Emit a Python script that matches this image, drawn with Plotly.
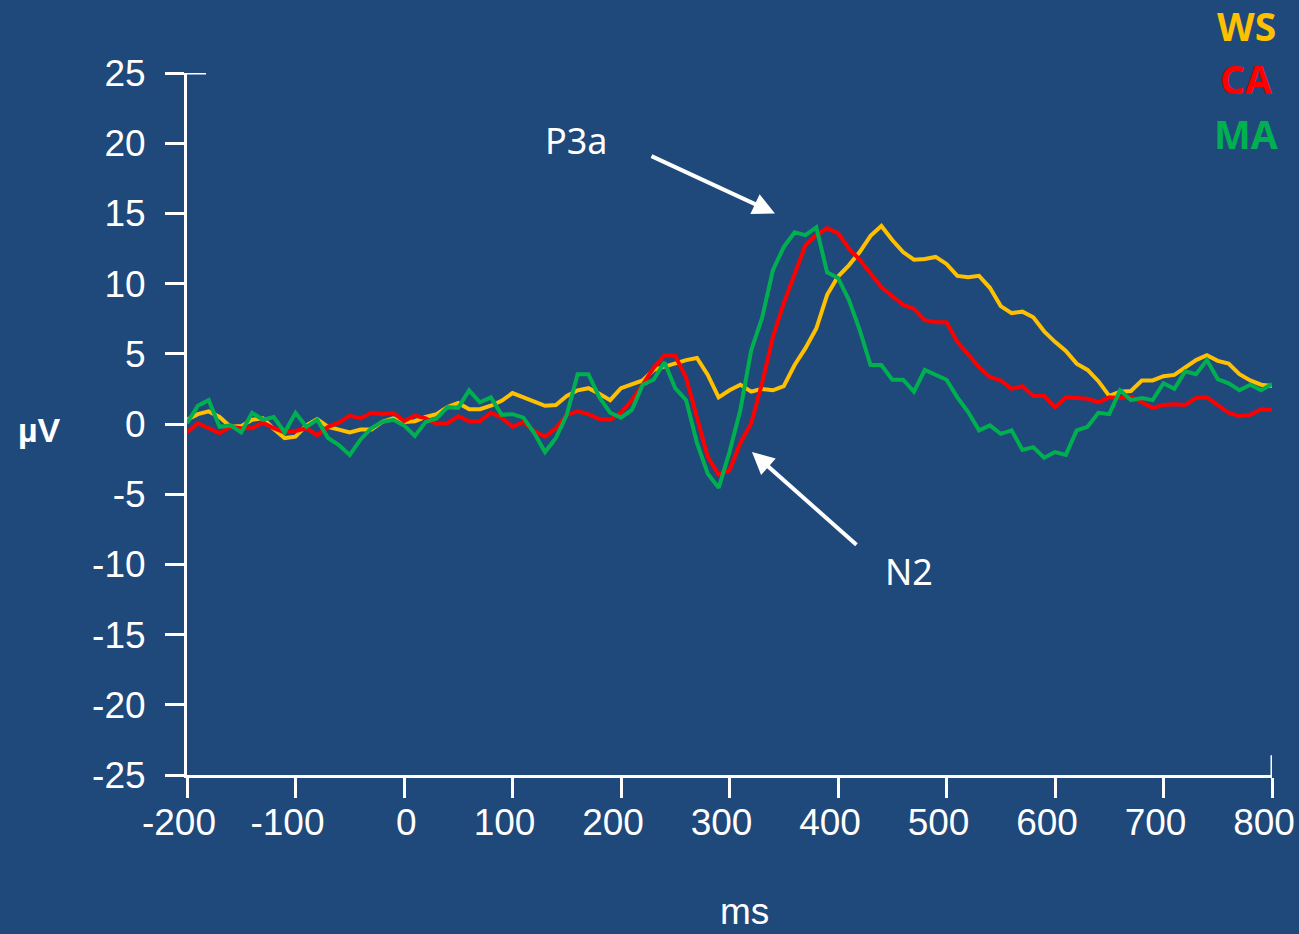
import plotly.graph_objects as go

ms = list(range(-200, 801, 10))

ws = [0.3, 0.7, 0.9, 0.5, -0.2, -0.15, 0.3, 0.4, -0.35, -1.0,
      -0.9, -0.1, 0.35, -0.2, -0.4, -0.6, -0.4, -0.4, 0.15, 0.4,
      0.15, 0.2, 0.5, 0.7, 1.2, 1.5, 1.05, 1.05, 1.3, 1.65,
      2.2, 1.9, 1.65, 1.3, 1.35, 2.0, 2.4, 2.55, 2.15, 1.7,
      2.55, 2.8, 3.1, 3.85, 4.1, 4.3, 4.55, 4.7, 3.5, 1.9,
      2.4, 2.8, 2.3, 2.5, 2.4, 2.7, 4.2, 5.4, 6.8, 9.2,
      10.5, 11.3, 12.25, 13.4, 14.1, 13.1, 12.25, 11.7, 11.75, 11.9,
      11.4, 10.55, 10.45, 10.55, 9.7, 8.4, 7.9, 8.0, 7.6, 6.6,
      5.85, 5.2, 4.3, 3.85, 3.05, 2.0, 2.3, 2.35, 3.1, 3.1,
      3.4, 3.5, 4.0, 4.55, 4.9, 4.5, 4.3, 3.55, 3.1, 2.8,
      2.7]

ca = [-0.6, 0.05, -0.3, -0.65, -0.2, -0.3, -0.3, 0.1, -0.3, -0.6,
      -0.5, -0.3, -0.8, -0.2, 0.1, 0.6, 0.4, 0.8, 0.7, 0.8,
      0.2, 0.6, 0.4, 0.0, 0.05, 0.55, 0.2, 0.2, 0.8, 0.45,
      -0.2, 0.15, -0.5, -0.9, -0.3, 0.65, 0.9, 0.7, 0.35, 0.3,
      0.8, 1.7, 2.8, 4.0, 4.9, 4.85, 3.3, 0.5, -2.35, -3.6,
      -3.3, -1.35, 0.05, 2.9, 6.2, 8.6, 10.75, 12.75, 13.45, 13.95,
      13.6, 12.5, 11.7, 10.75, 9.75, 9.1, 8.5, 8.2, 7.4, 7.25,
      7.25, 5.85, 4.9, 4.05, 3.35, 3.1, 2.5, 2.7, 2.0, 2.0,
      1.2, 1.9, 1.85, 1.8, 1.55, 1.9, 1.85, 1.9, 1.55, 1.15,
      1.35, 1.4, 1.35, 1.85, 1.9, 1.35, 0.8, 0.55, 0.65, 1.05,
      1.0]

ma = [0.05, 1.3, 1.7, -0.2, -0.1, -0.6, 0.8, 0.3, 0.5, -0.6,
      0.8, -0.2, 0.3, -1.0, -1.5, -2.2, -1.1, -0.3, 0.15, 0.3,
      -0.1, -0.85, 0.15, 0.4, 1.2, 1.15, 2.4, 1.55, 1.9, 0.65,
      0.7, 0.45, -0.65, -2.0, -1.0, 0.65, 3.55, 3.55, 1.9, 0.8,
      0.45, 1.0, 2.8, 3.15, 4.4, 2.55, 1.7, -1.35, -3.55, -4.55,
      -2.0, 1.0, 5.25, 7.55, 10.95, 12.6, 13.65, 13.45, 14.0, 10.8,
      10.4, 8.85, 6.7, 4.2, 4.2, 3.15, 3.15, 2.3, 3.85, 3.5,
      3.15, 1.9, 0.85, -0.45, -0.1, -0.7, -0.45, -1.85, -1.65, -2.4,
      -2.0, -2.2, -0.45, -0.2, 0.8, 0.7, 2.4, 1.7, 1.85, 1.7,
      2.9, 2.5, 3.75, 3.55, 4.55, 3.2, 2.9, 2.4, 2.8, 2.4,
      2.85]

x_ticks = [-200, -100, 0, 100, 200, 300, 400, 500, 600, 700, 800]
x_tick_text = ["-200", "-100", "\u00a0\u00a00", "100", "200", "300", "400", "500", "600", "700", "800"]
y_ticks = [-25, -20, -15, -10, -5, 0, 5, 10, 15, 20, 25]
y_tick_text = ["-25", "-20", "-15", "-10", "-5", "0", "5", "10", "15", "20", "25"]

series_names = ["WS", "CA", "MA"]
series_colors = ["#FFC000", "#FF0000", "#00B050"]

BG = "#1F487B"
WHITE = "#FFFFFF"

fig = go.Figure()
for name, vals, col in [("WS", ws, series_colors[0]), ("CA", ca, series_colors[1]), ("MA", ma, series_colors[2])]:
    fig.add_trace(go.Scatter(x=ms, y=vals, mode="lines", name=name,
                             line=dict(color=col, width=4), showlegend=False))

axis_font = dict(family="Liberation Sans, Arial, sans-serif", size=37, color=WHITE)

fig.update_layout(
    width=1299, height=934,
    margin=dict(l=187, r=27, t=73, b=159),
    paper_bgcolor=BG, plot_bgcolor=BG,
    xaxis=dict(range=[-200, 800], showgrid=False, zeroline=False, automargin=False,
               showline=True, linecolor=WHITE, linewidth=3,
               ticks="outside", ticklen=20, tickwidth=3, tickcolor=WHITE,
               tickvals=x_ticks, ticktext=x_tick_text, tickfont=axis_font,
               ticklabelstandoff=-7, ticklabelshift=-8, ticklabeloverflow="allow"),
    yaxis=dict(range=[-25, 25], showgrid=False, zeroline=False, automargin=False,
               showline=True, linecolor=WHITE, linewidth=3,
               ticks="outside", ticklen=19, tickwidth=3, tickcolor=WHITE,
               tickvals=y_ticks, ticktext=y_tick_text, tickfont=axis_font,
               ticklabelstandoff=12),
)

# cap at top of y axis and upward tick at right end of x axis
fig.add_shape(type="line", xref="x", yref="y", x0=-200, x1=-182.5, y0=25, y1=25,
              line=dict(color=WHITE, width=3))
fig.add_shape(type="line", xref="x", yref="y", x0=800, x1=800, y0=-25, y1=-23.6,
              line=dict(color=WHITE, width=3))

# axis titles
fig.add_annotation(text="<b>µV</b>", xref="paper", yref="y", x=-0.1355, y=-0.4,
                   xanchor="center", yanchor="middle", showarrow=False,
                   font=dict(family="Liberation Sans, Arial", size=34, color=WHITE))
fig.add_annotation(text="ms", xref="paper", yref="paper", x=0.514, y=-0.195,
                   xanchor="center", yanchor="middle", showarrow=False,
                   font=dict(family="Liberation Sans, Arial", size=37, color=WHITE))

# legend texts
for i, (nm, col) in enumerate(zip(series_names, series_colors)):
    fig.add_annotation(text="<b>%s</b>" % nm, xref="paper", yref="paper",
                       x=(1246 - 187) / 1085.0, y=(934 - 25 - 54 * i - 159) / 702.0,
                       xanchor="center", yanchor="middle", showarrow=False,
                       font=dict(family="Noto Sans, Open Sans", size=39, color=col))

# P3a and N2 arrows
label_font = dict(family="Noto Sans, Open Sans", size=36, color=WHITE)
fig.add_annotation(x=341.9, y=15.0, ax=-125, ay=-58, text="", showarrow=True,
                   arrowhead=2, arrowsize=1.1, arrowwidth=4, arrowcolor=WHITE)
fig.add_annotation(x=320.7, y=-2.0, ax=106, ay=94, text="", showarrow=True,
                   arrowhead=2, arrowsize=1.1, arrowwidth=4, arrowcolor=WHITE)
fig.add_annotation(text="P3a", x=159, y=20.2, xref="x", yref="y", showarrow=False,
                   xanchor="center", yanchor="middle", font=label_font)
fig.add_annotation(text="N2", x=465, y=-10.5, xref="x", yref="y", showarrow=False,
                   xanchor="center", yanchor="middle", font=label_font)

fig.write_html("out.html")
